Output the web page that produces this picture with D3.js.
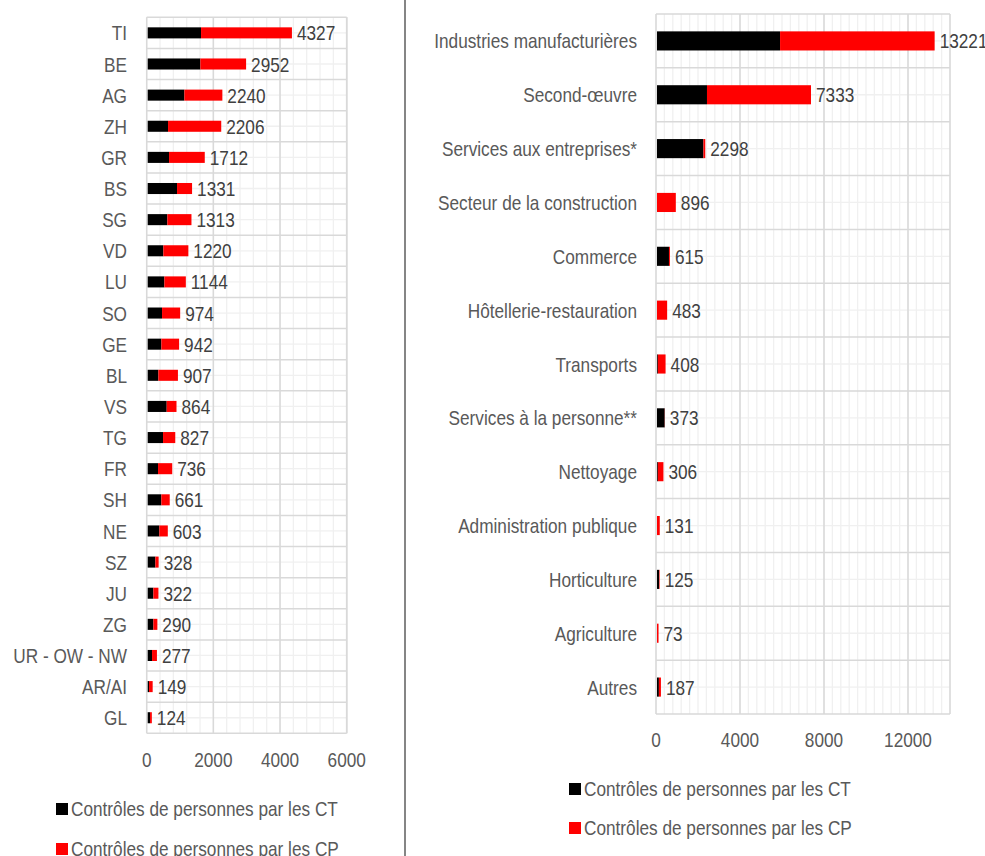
<!DOCTYPE html>
<meta charset="utf-8">
<style>
  body { margin: 0; background: #fff; }
  svg text {
    font-family: "Liberation Sans Narrow", "Arial Narrow", "Liberation Sans", Arial, sans-serif;
    fill: #595959;
  }
  .cat { font-size: 21px; text-anchor: end; }
  .tick-lbl { font-size: 21px; text-anchor: middle; }
  .val { font-size: 21px; fill: #404040; }
  .leg { font-size: 21px; }
</style>
<svg width="985" height="856"></svg>
<script src="https://d3js.org/d3.v7.min.js"></script>
<script>
  // cantons
  var cantons = ["TI", "BE", "AG", "ZH", "GR", "BS", "SG", "VD", "LU", "SO", "GE", "BL", "VS", "TG", "FR", "SH", "NE", "SZ", "JU", "ZG", "UR - OW - NW", "AR/AI", "GL"]
  var cantonsCT = [1600, 1580, 1100, 610, 640, 880, 590, 470, 500, 430, 410, 320, 570, 460, 310, 410, 350, 230, 170, 170, 130, 40, 70]
  var cantonsCP = [2727, 1372, 1140, 1596, 1072, 451, 723, 750, 644, 544, 532, 587, 294, 367, 426, 251, 253, 98, 152, 120, 147, 109, 54]
  var cantonsTicks = [0, 2000, 4000, 6000]

  // branches
  var branches = ["Industries manufacturières", "Second-œuvre", "Services aux entreprises*", "Secteur de la construction", "Commerce", "Hôtellerie-restauration", "Transports", "Services à la personne**", "Nettoyage", "Administration publique", "Horticulture", "Agriculture", "Autres"]
  var branchesCT = [5860, 2380, 2210, 0, 570, 0, 40, 365, 40, 0, 100, 0, 90]
  var branchesCP = [7361, 4953, 88, 896, 45, 483, 368, 8, 266, 131, 25, 73, 97]
  var branchesTicks = [0, 4000, 8000, 12000]

  var seriesNames = ["Contrôles de personnes par les CT", "Contrôles de personnes par les CP"]
  var colors = ["#000000", "#ff0000"]

  // no narrow font installed: squeeze the regular one instead
  var narrow = 0.82

  var svg = d3.select("svg")

  // separator between the two charts
  svg.append("line")
    .attr("x1", 405).attr("x2", 405).attr("y1", 0).attr("y2", 856)
    .attr("stroke", "#858585").attr("stroke-width", 2)

  drawChart({
    cats: cantons, ct: cantonsCT, cp: cantonsCP, ticks: cantonsTicks,
    max: 6000, minor: 400, left: 146.7, right: 346.7, top: 17.3, bottom: 733.3,
    labelX: 127, tickY: 767, legX: 56, legY: [803, 843]
  })
  drawChart({
    cats: branches, ct: branchesCT, cp: branchesCP, ticks: branchesTicks,
    max: 14000, minor: 400, left: 656, right: 950, top: 14, bottom: 714,
    labelX: 637, tickY: 747, legX: 569, legY: [783, 822]
  })

  function at(xf, yf) {
    return (d, i) => "translate(" + xf(d, i) + "," + yf(d, i) + ") scale(" + narrow + ",1)"
  }

  function drawChart(c) {
    var g = svg.append("g")
    var x = d3.scaleLinear().domain([0, c.max]).range([c.left, c.right])
    var y = d3.scaleBand().domain(c.cats).range([c.top, c.bottom])
      .paddingInner(0.645).paddingOuter(0.3225)
    var step = y.step()
    var mid = d => y(d) + y.bandwidth() / 2

    // minor vertical grid
    g.append("g").selectAll("line")
      .data(d3.range(0, c.max + 1, c.minor))
      .join("line")
      .attr("x1", d => x(d)).attr("x2", d => x(d))
      .attr("y1", c.top).attr("y2", c.bottom)
      .attr("stroke", "#f0f0f0").attr("stroke-width", 1.3)

    // minor horizontal grid (row centres)
    g.append("g").selectAll("line")
      .data(c.cats)
      .join("line")
      .attr("x1", c.left).attr("x2", c.right)
      .attr("y1", mid).attr("y2", mid)
      .attr("stroke", "#f0f0f0").attr("stroke-width", 1.3)

    // major vertical grid
    g.append("g").selectAll("line")
      .data(c.ticks.concat([c.max]))
      .join("line")
      .attr("x1", d => x(d)).attr("x2", d => x(d))
      .attr("y1", c.top).attr("y2", c.bottom)
      .attr("stroke", "#d9d9d9").attr("stroke-width", 1.5)

    // row boundaries
    g.append("g").selectAll("line")
      .data(d3.range(c.cats.length + 1))
      .join("line")
      .attr("x1", c.left).attr("x2", c.right)
      .attr("y1", i => c.top + i * step).attr("y2", i => c.top + i * step)
      .attr("stroke", "#d9d9d9").attr("stroke-width", 1.5)

    var rows = c.cats.map((d, i) => ({ name: d, ct: c.ct[i], cp: c.cp[i] }))

    // stacked bars
    var stack = d3.stack().keys(["ct", "cp"])(rows)
    g.append("g").selectAll("g")
      .data(stack)
      .join("g")
      .attr("fill", (s, i) => colors[i])
      .selectAll("rect")
      .data(s => s)
      .join("rect")
      .attr("x", d => x(d[0]) + 1)
      .attr("y", d => y(d.data.name))
      .attr("width", d => Math.max(0, x(d[1]) - x(d[0])))
      .attr("height", y.bandwidth())

    // totals
    g.append("g").selectAll("text")
      .data(rows)
      .join("text")
      .attr("class", "val")
      .attr("transform", at(d => x(d.ct + d.cp) + 6, d => mid(d.name)))
      .attr("dy", "0.36em")
      .text(d => d.ct + d.cp)

    // category labels
    g.append("g").selectAll("text")
      .data(c.cats)
      .join("text")
      .attr("class", "cat")
      .attr("transform", at(() => c.labelX, mid))
      .attr("dy", "0.36em")
      .text(d => d)

    // tick labels
    g.append("g").selectAll("text")
      .data(c.ticks)
      .join("text")
      .attr("class", "tick-lbl")
      .attr("transform", at(d => x(d), () => c.tickY))
      .text(d => d)

    // legend
    var leg = g.append("g").selectAll("g")
      .data(seriesNames)
      .join("g")
      .attr("transform", (d, i) => "translate(" + c.legX + "," + c.legY[i] + ")")
    leg.append("rect")
      .attr("width", 12).attr("height", 12)
      .attr("fill", (d, i) => colors[i])
    leg.append("text")
      .attr("class", "leg")
      .attr("transform", at(() => 15, () => 12.5))
      .text(d => d)
  }
</script>
